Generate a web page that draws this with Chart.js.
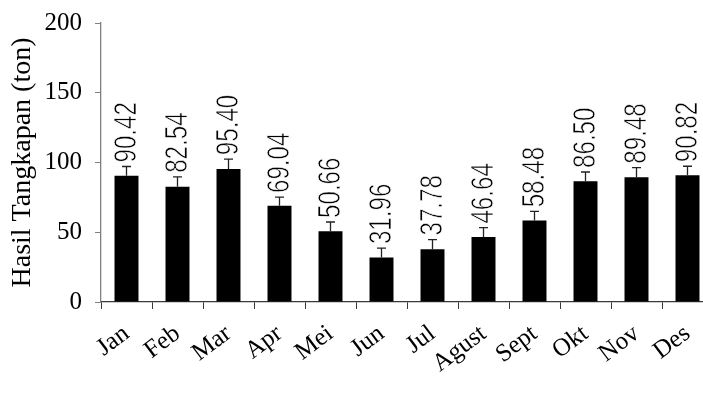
<!DOCTYPE html>
<html>
<head>
<meta charset="utf-8">
<script src="https://cdn.jsdelivr.net/npm/chart.js@4/dist/chart.umd.min.js"></script>
<style>
  html, body { margin: 0; padding: 0; background: #fff; overflow: hidden; }
  #wrap { width: 703px; height: 410px; overflow: hidden; }
</style>
</head>
<body>
<div id="wrap"><canvas id="c" width="716" height="410"></canvas></div>
<script>
// Monthly catch (ton) with upper error bars
const months = ['Jan', 'Feb', 'Mar', 'Apr', 'Mei', 'Jun', 'Jul', 'Agust', 'Sept', 'Okt', 'Nov', 'Des'];
const catchTon = [90.42, 82.54, 95.40, 69.04, 50.66, 31.96, 37.78, 46.64, 58.48, 86.50, 89.48, 90.82];
const catchErr = [6.7, 7.2, 7.0, 6.2, 6.7, 6.7, 7.0, 6.7, 6.5, 6.7, 6.8, 6.5];
const yTicks = [0, 50, 100, 150, 200];
const yTitle = 'Hasil Tangkapan (ton)';

const SERIF = '"Liberation Serif", "Times New Roman", serif';
const NARROW = '"Liberation Sans Narrow", "Arial Narrow", "Liberation Sans", Arial, sans-serif';
const LABEL_PX = 31;          // glyph height of the value labels
const LABEL_EM_LEN = 1.95;    // run length of "00.00" in em units

// Draws the error whisker and the rotated value label above each bar
const errorLabels = {
  id: 'errorLabels',
  afterDatasetsDraw(chart) {
    const ctx = chart.ctx;
    const y = chart.scales.y;
    const meta = chart.getDatasetMeta(0);
    ctx.save();
    ctx.font = LABEL_PX + 'px ' + NARROW;
    const sx = (LABEL_PX * LABEL_EM_LEN) / ctx.measureText('00.00').width;
    ctx.restore();
    meta.data.forEach((bar, i) => {
      const v = catchTon[i];
      const top = y.getPixelForValue(v + catchErr[i]);
      ctx.save();
      ctx.strokeStyle = '#222';
      ctx.lineWidth = 1.3;
      ctx.beginPath();
      ctx.moveTo(bar.x, bar.y);
      ctx.lineTo(bar.x, top);
      ctx.moveTo(bar.x - 4.5, top);
      ctx.lineTo(bar.x + 4.5, top);
      ctx.stroke();
      ctx.translate(bar.x, top - 4);
      ctx.rotate(-Math.PI / 2);
      ctx.scale(sx, 1);
      ctx.fillStyle = '#000';
      ctx.font = LABEL_PX + 'px ' + NARROW;
      ctx.textAlign = 'left';
      ctx.textBaseline = 'middle';
      ctx.fillText(v.toFixed(2), 0, 1);
      // thin the condensed strokes slightly for a light narrow face
      ctx.strokeStyle = '#fff';
      ctx.lineWidth = 0.7;
      ctx.strokeText(v.toFixed(2), 0, 1);
      ctx.restore();
    });
  }
};

new Chart(document.getElementById('c'), {
  type: 'bar',
  data: {
    labels: months,
    datasets: [{
      data: catchTon,
      backgroundColor: '#000',
      borderWidth: 0,
      barPercentage: 0.47,
      categoryPercentage: 1.0
    }]
  },
  options: {
    responsive: false,
    animation: false,
    layout: { padding: { left: 0, top: 23, right: 3, bottom: 0 } },
    plugins: { legend: { display: false }, tooltip: { enabled: false } },
    scales: {
      x: {
        offset: true,
        grid: {
          display: true, offset: true, drawOnChartArea: false, drawTicks: true,
          tickLength: 7, color: '#3a3a3a', lineWidth: 1
        },
        border: { display: true, color: '#3a3a3a', width: 1.3 },
        ticks: {
          autoSkip: false, maxRotation: 37, minRotation: 37, padding: 10,
          color: '#000', font: { family: SERIF, size: 25 }
        },
        afterFit(scale) { scale.height = 108; }
      },
      y: {
        min: 0, max: 200,
        afterBuildTicks(scale) { scale.ticks = yTicks.map(v => ({ value: v })); },
        grid: {
          display: true, drawOnChartArea: false, drawTicks: true,
          tickLength: 6, color: '#808080', lineWidth: 1
        },
        border: { display: true, color: '#808080', width: 1.3 },
        ticks: {
          padding: 13, color: '#000', font: { family: SERIF, size: 25 }
        },
        title: {
          display: true, text: yTitle, color: '#000',
          font: { family: SERIF, size: 28 }, padding: { top: 6, bottom: 0 }
        },
        afterFit(scale) {
          scale.width = 101;
          scale.paddingTop = 10;
          scale.paddingBottom = 10;
        }
      }
    }
  },
  plugins: [errorLabels]
});
</script>
</body>
</html>
